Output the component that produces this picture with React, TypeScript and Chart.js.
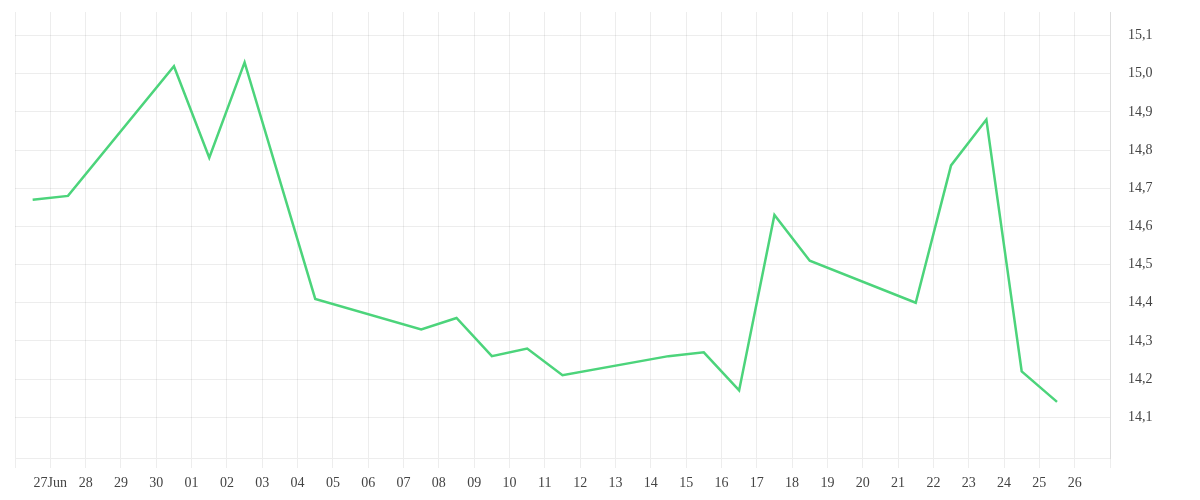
import React, { useEffect, useRef } from "react";
import { Chart, registerables } from "chart.js";

Chart.register(...registerables);

// Observation times (dates, midday)
const pointDates = [
  "2024-06-26", "2024-06-27", "2024-06-30", "2024-07-01", "2024-07-02",
  "2024-07-04", "2024-07-07", "2024-07-08", "2024-07-09", "2024-07-10",
  "2024-07-11", "2024-07-14", "2024-07-15", "2024-07-16", "2024-07-17",
  "2024-07-18", "2024-07-21", "2024-07-22", "2024-07-23", "2024-07-24",
  "2024-07-25",
];
const seriesValues = [
  14.67, 14.68, 15.02, 14.78, 15.03,
  14.41, 14.33, 14.36, 14.26, 14.28,
  14.21, 14.26, 14.27, 14.17, 14.63,
  14.51, 14.40, 14.76, 14.88, 14.22,
  14.14,
];
const axisStartDate = "2024-06-26";
const xTickLabels = [
  "", "27Jun", "28", "29", "30",
  "01", "02", "03", "04", "05", "06", "07", "08", "09", "10",
  "11", "12", "13", "14", "15", "16", "17", "18", "19", "20",
  "21", "22", "23", "24", "25", "26", "",
];
const yTickValues = [14.1, 14.2, 14.3, 14.4, 14.5, 14.6, 14.7, 14.8, 14.9, 15.0, 15.1];
const yMin = 13.993;
const yMax = 15.162;

const DAY = 86400000;
const dayIndex = (d: string) =>
  (Date.parse(d + "T12:00:00Z") - Date.parse(axisStartDate + "T00:00:00Z")) / DAY;

export default function App() {
  const ref = useRef<HTMLCanvasElement | null>(null);
  useEffect(() => {
    if (!ref.current) return;
    const font = { family: "'Liberation Serif', serif", size: 14 };
    const gridColor = "rgba(0,0,0,0.07)";
    const chart = new Chart(ref.current, {
      type: "line",
      data: {
        datasets: [
          {
            data: pointDates.map((d, i) => ({ x: dayIndex(d), y: seriesValues[i] })),
            borderColor: "#4cd47b",
            backgroundColor: "#4cd47b",
            borderWidth: 2.5,
            pointRadius: 0,
            tension: 0,
            fill: false,
          },
        ],
      },
      options: {
        animation: false,
        responsive: true,
        maintainAspectRatio: false,
        layout: { padding: { left: 7, top: 4, right: 0, bottom: 0 } },
        plugins: { legend: { display: false }, tooltip: { enabled: false } },
        scales: {
          x: {
            type: "linear",
            min: 0,
            max: xTickLabels.length - 1,
            afterBuildTicks: (scale: any) => {
              scale.ticks = xTickLabels.map((_, i) => ({ value: i }));
            },
            afterFit: (scale: any) => {
              scale.height = 34;
            },
            ticks: {
              autoSkip: false,
              maxRotation: 0,
              padding: 7,
              color: "#444",
              font,
              callback: (v: any) => xTickLabels[Math.round(Number(v))] ?? "",
            },
            grid: { color: gridColor, tickLength: 10 },
            border: { color: gridColor },
          },
          y: {
            position: "right",
            min: yMin,
            max: yMax,
            afterBuildTicks: (scale: any) => {
              scale.ticks = yTickValues.map((v) => ({ value: v }));
            },
            afterFit: (scale: any) => {
              scale.width = 82;
              scale.paddingTop = 0;
              scale.paddingBottom = 0;
            },
            ticks: {
              padding: 0,
              color: "#444",
              font,
              callback: (v: any) => Number(v).toFixed(1).replace(".", ","),
            },
            grid: { color: gridColor, drawTicks: true, tickLength: 18, tickColor: "rgba(0,0,0,0)" },
            border: { color: gridColor },
          },
        },
      },
    } as any);
    return () => chart.destroy();
  }, []);
  return (
    <div style={{ position: "relative", width: "100%", height: 484 }}>
      <canvas ref={ref} />
    </div>
  );
}
